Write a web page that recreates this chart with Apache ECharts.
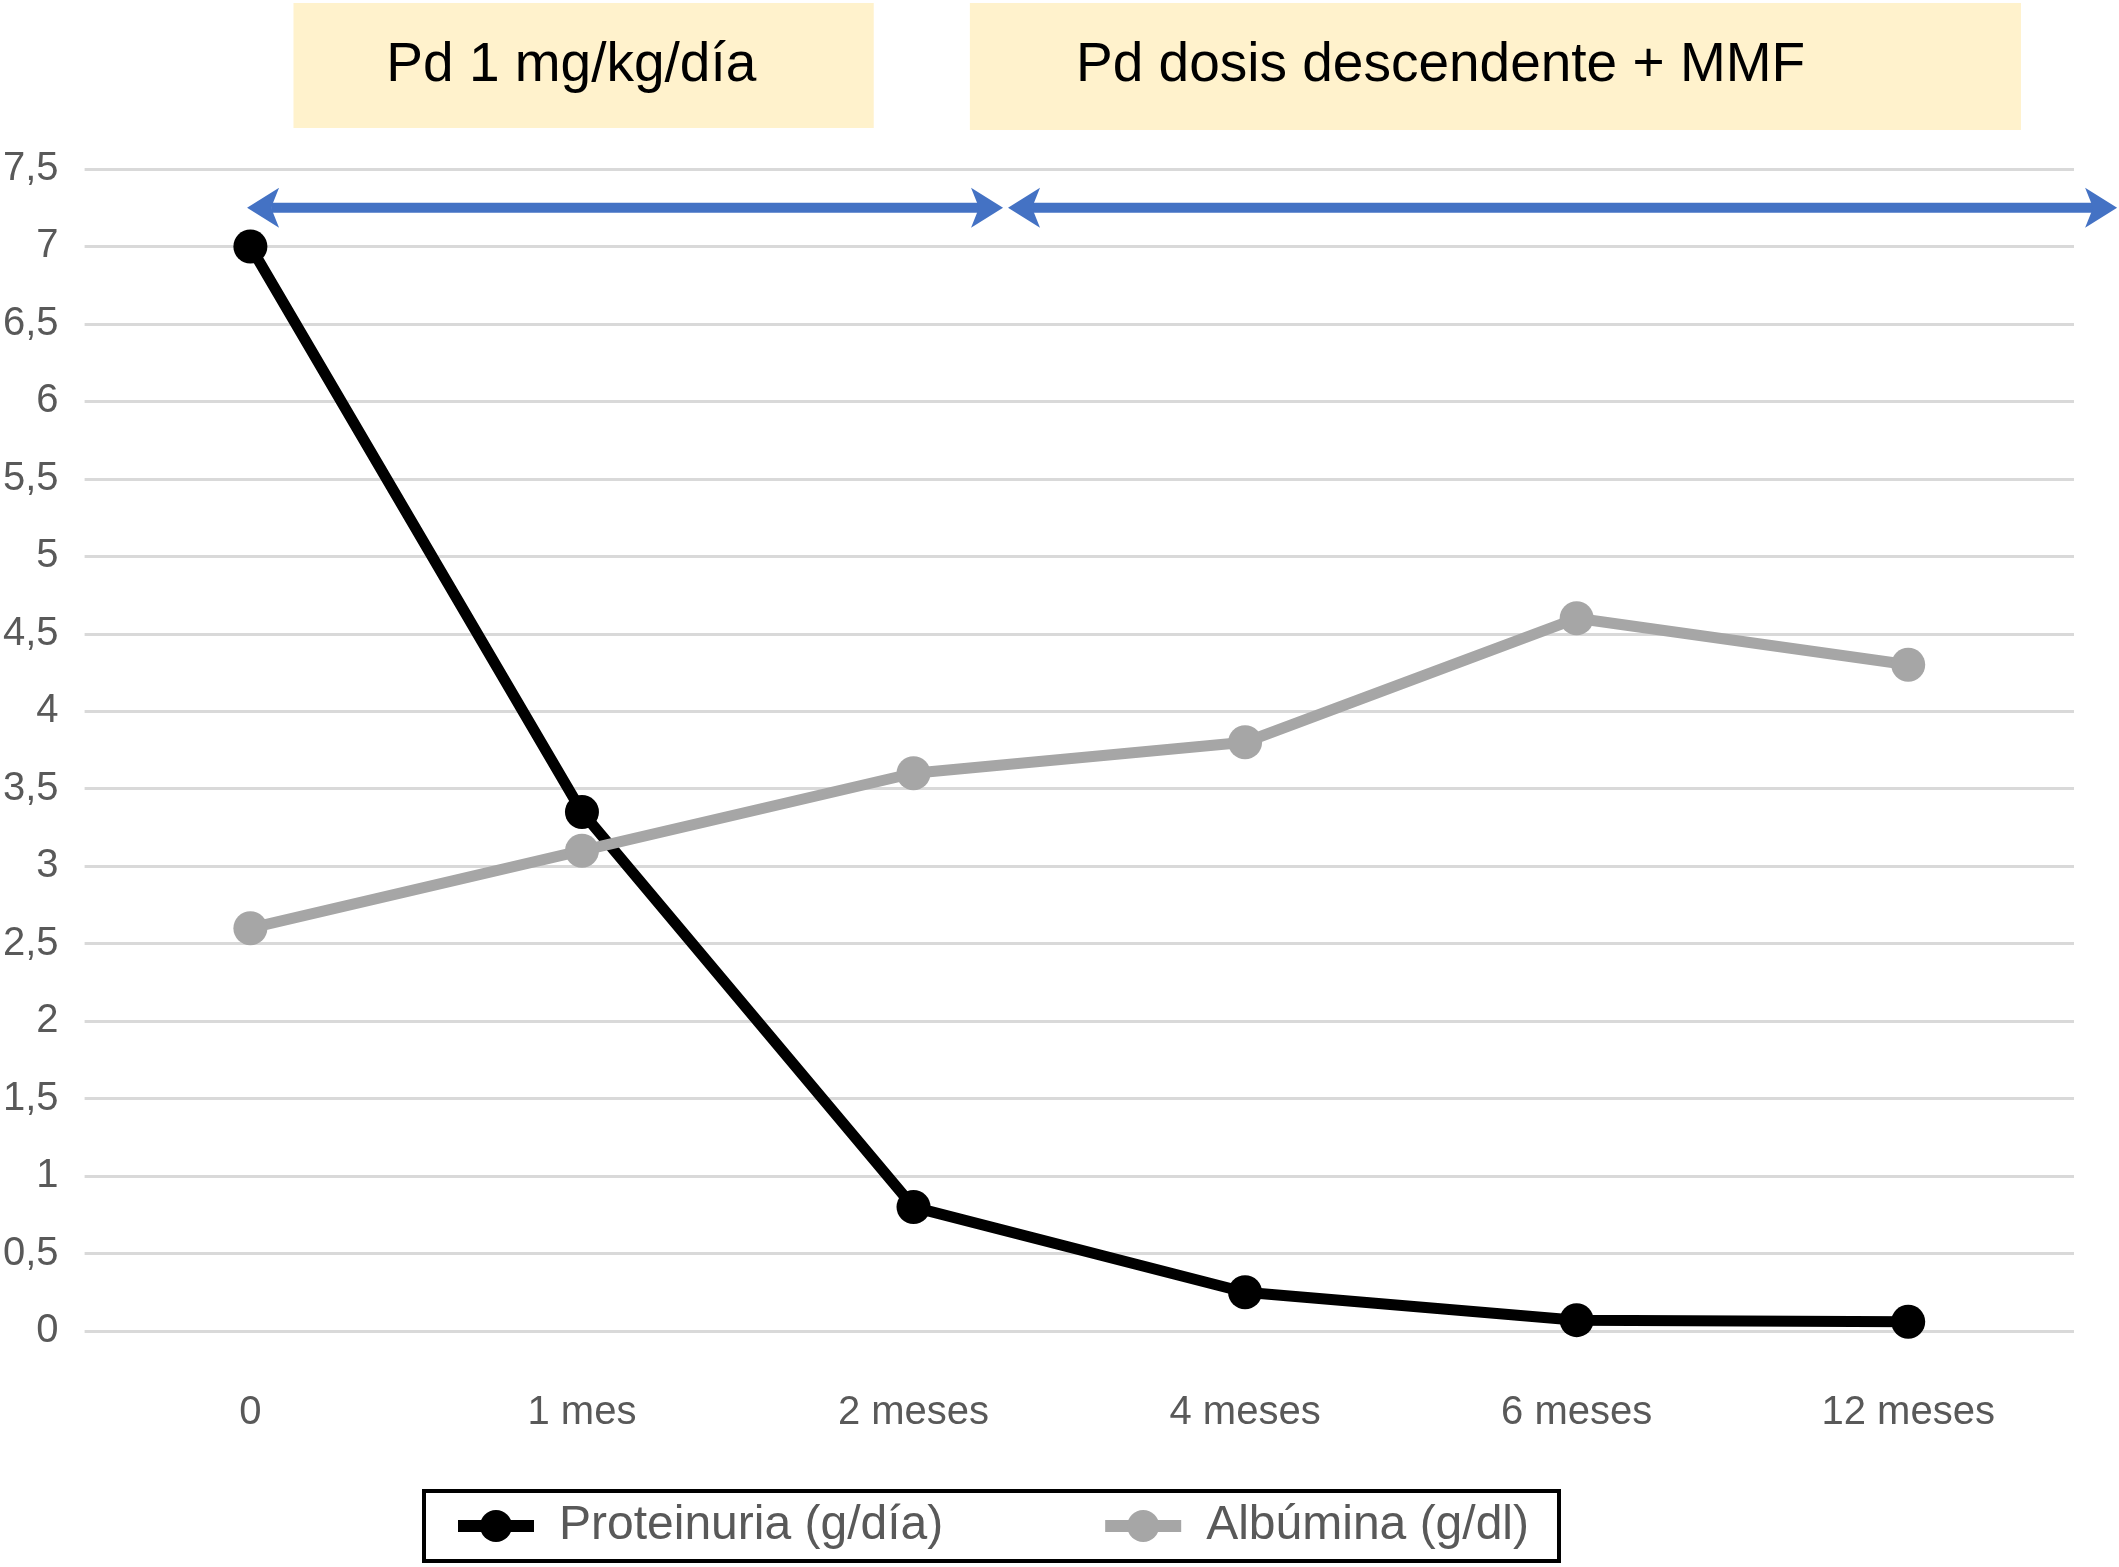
<!DOCTYPE html>
<html>
<head>
<meta charset="utf-8">
<script src="https://cdn.jsdelivr.net/npm/echarts@6/dist/echarts.min.js"></script>
<style>
html,body{margin:0;padding:0;background:#fff;}
#chart{width:2119px;height:1567px;}
</style>
</head>
<body>
<div id="chart"></div>
<script>
// ---- data ----
const categories = ['0', '1 mes', '2 meses', '4 meses', '6 meses', '12 meses'];
const proteinuria = [7.0, 3.35, 0.8, 0.25, 0.07, 0.06];
const albumina = [2.6, 3.1, 3.6, 3.8, 4.6, 4.3];
const seriesNames = ['Proteinuria (g/día)', 'Albúmina (g/dl)'];
const phaseLabels = ['Pd 1 mg/kg/día', 'Pd dosis descendente + MMF'];
// phase boxes / arrows, in category-index units
const phaseSpans = [[0.13, 1.88], [2.17, 5.34]];
const phaseTextStart = [0.41, 2.49];
const arrowSpans = [[-0.01, 2.27], [2.285, 5.63]];
const arrowLevel = 7.25;

const FONT = '"Liberation Sans", Arial, Helvetica, sans-serif';
const chart = echarts.init(document.getElementById('chart'), null, {renderer: 'canvas'});

chart.setOption({
  animation: false,
  backgroundColor: '#fff',
  textStyle: {fontFamily: FONT},
  grid: {left: 84, right: 45, top: 169, bottom: 236, containLabel: false},
  xAxis: [{
    type: 'category',
    data: categories,
    boundaryGap: true,
    axisLine: {show: false},
    axisTick: {show: false},
    axisLabel: {margin: 62, fontSize: 40, color: '#595959', fontFamily: FONT}
  }, {
    type: 'value', min: -0.5, max: 5.5, show: false
  }],
  yAxis: {
    type: 'value', min: 0, max: 7.5, interval: 0.5,
    axisLine: {show: false},
    axisTick: {show: false},
    axisLabel: {
      margin: 26, fontSize: 40, color: '#595959', fontFamily: FONT,
      formatter: v => String(v).replace('.', ',')
    },
    splitLine: {lineStyle: {color: '#D9D9D9', width: 3}}
  },
  legend: {
    data: seriesNames,
    left: 424, top: 1491,
    padding: [11, 30, 11, 28],
    borderColor: '#000', borderWidth: 4,
    itemWidth: 76, itemHeight: 40, itemGap: 156,
    lineStyle: {width: 12},
    textStyle: {fontSize: 48, color: '#595959', fontFamily: FONT, padding: [0, 0, 0, 20]}
  },
  series: [{
    name: seriesNames[0],
    type: 'line',
    data: proteinuria,
    symbol: 'circle', symbolSize: 34,
    lineStyle: {color: '#000', width: 11},
    itemStyle: {color: '#000'},
    z: 3
  }, {
    name: seriesNames[1],
    type: 'line',
    data: albumina,
    symbol: 'circle', symbolSize: 34,
    lineStyle: {color: '#A6A6A6', width: 11},
    itemStyle: {color: '#A6A6A6'},
    z: 4
  }]
});

function px(x, y) {
  return chart.convertToPixel({xAxisIndex: 1, yAxisIndex: 0}, [x, y]);
}

const graphics = [];
phaseSpans.forEach((s, i) => {
  const a = px(s[0], 0), b = px(s[1], 0);
  graphics.push({
    type: 'rect', z: 0,
    shape: {x: a[0], y: 3, width: b[0] - a[0], height: 125 + i * 2},
    style: {fill: '#FFF2CC'}
  });
  const t = px(phaseTextStart[i], 0);
  graphics.push({
    type: 'text', z: 1, x: t[0], y: 66,
    style: {text: phaseLabels[i], fontSize: 55, fontFamily: FONT, fill: '#000', align: 'left', verticalAlign: 'middle'}
  });
});
const HL = 32, HH = 20, NOTCH = 8;
arrowSpans.forEach(s => {
  const a = px(s[0], arrowLevel), b = px(s[1], arrowLevel);
  const y = a[1];
  graphics.push({
    type: 'line', z: 5,
    shape: {x1: a[0] + HL - NOTCH, y1: y, x2: b[0] - HL + NOTCH, y2: y},
    style: {stroke: '#4472C4', lineWidth: 10}
  });
  graphics.push({
    type: 'polygon', z: 5,
    shape: {points: [[a[0], y], [a[0] + HL, y - HH], [a[0] + HL - NOTCH, y], [a[0] + HL, y + HH]]},
    style: {fill: '#4472C4'}
  });
  graphics.push({
    type: 'polygon', z: 5,
    shape: {points: [[b[0], y], [b[0] - HL, y - HH], [b[0] - HL + NOTCH, y], [b[0] - HL, y + HH]]},
    style: {fill: '#4472C4'}
  });
});
chart.setOption({graphic: graphics});
</script>
</body>
</html>
